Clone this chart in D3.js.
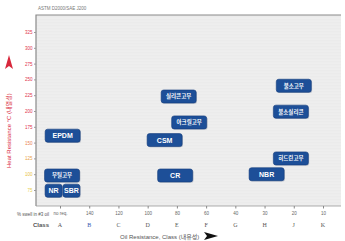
<!DOCTYPE html>
<html lang="ko">
<head>
<meta charset="UTF-8">
<title>Heat vs Oil Resistance</title>
<script src="https://d3js.org/d3.v7.min.js"></script>
<style>
    * { margin: 0; padding: 0; box-sizing: border-box; }
    body { background: #fff; width: 345px; height: 241px; overflow: hidden;
           font-family: 'Liberation Sans', Arial, 'Noto Sans CJK KR', sans-serif; }
</style>
</head>
<body>
<div id="chart"></div>
<script>
    // tick labels
    const classes = ['A', 'B', 'C', 'D', 'E', 'F', 'G', 'H', 'J', 'K'];
    const swell = ['no req.', '140', '120', '100', '80', '60', '40', '30', '20', '10'];
    const heatTicks = [75, 100, 125, 150, 175, 200, 225, 250, 275, 300, 325];

    // materials: oil resistance class (index, fractional) and heat resistance (°C)
    const names = ['EPDM', '부틸고무', 'NR', 'SBR', '실리콘고무', '아크릴고무', 'CSM', 'CR', 'NBR', '불소고무', '불소실리콘', '히드린고무'];
    const oilClass = [0.09, 0.07, -0.22, 0.39, 4.06, 4.42, 3.58, 3.94, 7.07, 8.0, 7.9, 7.9];
    const heatTemp = [161, 98, 74, 74, 223, 182, 154, 98, 100, 240, 199, 125];

    const W = 345, H = 241;
    const svg = d3.select('#chart').append('svg').attr('width', W).attr('height', H);

    const x = d3.scaleLinear().domain([0, 9]).range([60, 323]);
    const y = d3.scaleLinear().domain([75, 325]).range([190, 32]);

    const pl = 36, pt = 15, pr = 341, pb = 206;

    // plot background with faint stripes
    svg.append('rect').attr('x', pl).attr('y', pt).attr('width', pr - pl).attr('height', pb - pt)
        .attr('fill', '#ebebeb');
    d3.range(pt + 3, pb, 3).forEach(v => {
        svg.append('line').attr('x1', pl).attr('x2', pr).attr('y1', v).attr('y2', v)
            .attr('stroke', '#f3f3f3').attr('stroke-width', 0.6);
    });
    svg.append('path').attr('d', `M${pl},${pb}V${pt}H${pr}`)
        .attr('fill', 'none').attr('stroke', '#8a8a8a').attr('stroke-width', 1.2);
    svg.append('line').attr('x1', pl).attr('x2', pr).attr('y1', pb).attr('y2', pb)
        .attr('stroke', '#9a9a9a').attr('stroke-width', 0.8);

    svg.append('text').attr('x', 38).attr('y', 10).attr('font-size', 4.5).attr('fill', '#777')
        .text('ASTM D2000/SAE J200');

    // y axis
    const heatColor = d3.scaleLinear().domain([75, 100, 150, 175]).range(['#e8cf50', '#e8c040', '#e98050', '#e0304a']).clamp(true);
    const yAxis = svg.append('g').attr('transform', `translate(${pl},0)`)
        .call(d3.axisLeft(y).tickValues(heatTicks).tickSize(2).tickPadding(1.5));
    yAxis.select('.domain').remove();
    yAxis.selectAll('.tick line').attr('stroke', '#999');
    yAxis.selectAll('.tick text').attr('fill', d => heatColor(d)).attr('font-size', 4.5);

    // x axis: swell row + class row
    const xAxis = svg.append('g').attr('transform', `translate(0,${pb})`)
        .call(d3.axisBottom(x).tickValues(d3.range(classes.length)).tickFormat(i => swell[i]).tickSize(2.5).tickPadding(3));
    xAxis.select('.domain').remove();
    xAxis.selectAll('.tick line').attr('stroke', '#888');
    xAxis.selectAll('.tick text').attr('fill', '#666').attr('font-size', 4.5);

    svg.append('g').selectAll('text').data(classes).join('text')
        .attr('x', (d, i) => x(i)).attr('y', 227).attr('text-anchor', 'middle')
        .attr('font-family', 'Liberation Serif, serif').attr('font-size', 6)
        .attr('fill', (d, i) => i === 1 ? '#3a5ab0' : '#555').text(d => d);

    svg.append('text').attr('x', 49).attr('y', 216).attr('text-anchor', 'end')
        .attr('font-size', 4.5).attr('fill', '#555').text('% swell in #3 oil');
    svg.append('text').attr('x', 49).attr('y', 227).attr('text-anchor', 'end')
        .attr('font-size', 6).attr('font-weight', 'bold').attr('fill', '#555').text('Class');

    // axis titles
    svg.append('text').attr('x', 120).attr('y', 239).attr('font-size', 6).attr('fill', '#555')
        .text('Oil Resistance, Class (내유성)');
    svg.append('path').attr('d', 'M204,232 L218,236 L204,240 L207,236 Z').attr('fill', '#111');

    svg.append('text').attr('transform', 'translate(11,168) rotate(-90)').attr('font-size', 6)
        .attr('fill', '#d8283c').text('Heat Resistance °C (내열성)');
    svg.append('path').attr('d', 'M9,55 L5,69 L9,66 L13,69 Z').attr('fill', '#d8283c');

    // material boxes
    const materials = names.map((n, i) => ({ name: n, cls: oilClass[i], temp: heatTemp[i] }));
    const box = svg.append('g').selectAll('g').data(materials).join('g')
        .attr('transform', d => `translate(${x(d.cls)},${y(d.temp)})`);
    const bw = d => (d.name === 'NR' || d.name === 'SBR') ? 17 : 35;
    box.append('rect')
        .attr('x', d => -bw(d) / 2 + 0.8).attr('y', -6.5 + 0.8)
        .attr('width', bw).attr('height', 13).attr('rx', 2.5)
        .attr('fill', '#7d8aa0').attr('opacity', 0.5);
    box.append('rect')
        .attr('x', d => -bw(d) / 2).attr('y', -6.5)
        .attr('width', bw).attr('height', 13).attr('rx', 2.5)
        .attr('fill', '#1d4f98').attr('stroke', '#143d7c').attr('stroke-width', 0.6);
    box.append('text').attr('text-anchor', 'middle').attr('dy', '0.35em')
        .attr('fill', '#fff').attr('font-weight', 'bold')
        .attr('font-size', d => /[A-Z]/.test(d.name) ? 7 : 5.5)
        .text(d => d.name);
</script>
</body>
</html>
